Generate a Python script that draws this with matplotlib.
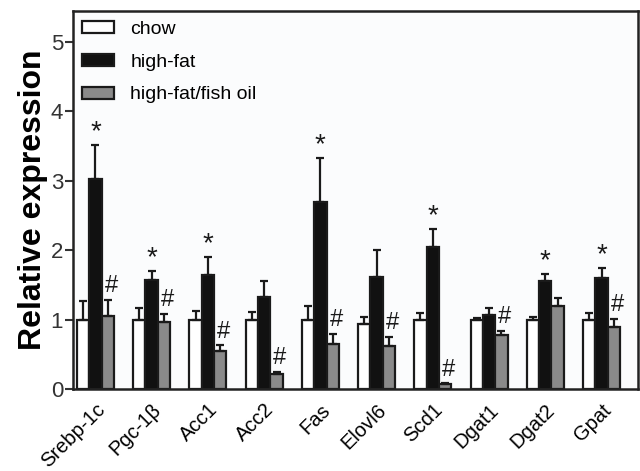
import matplotlib
matplotlib.use("Agg")
import matplotlib.pyplot as plt
import matplotlib.transforms as mtransforms
import numpy as np

plt.rcParams['font.family'] = ['Liberation Sans', 'DejaVu Sans']

genes = ["Srebp-1c", "Pgc-1β", "Acc1", "Acc2", "Fas", "Elovl6", "Scd1", "Dgat1", "Dgat2", "Gpat"]
chow = [1.0, 1.0, 1.0, 1.0, 1.0, 0.94, 1.0, 1.0, 1.0, 1.0]
chow_err = [0.27, 0.17, 0.12, 0.11, 0.20, 0.10, 0.10, 0.03, 0.04, 0.10]
highfat = [3.02, 1.57, 1.65, 1.33, 2.70, 1.62, 2.04, 1.07, 1.55, 1.60]
highfat_err = [0.50, 0.13, 0.25, 0.22, 0.63, 0.38, 0.26, 0.10, 0.11, 0.14]
fishoil = [1.05, 0.96, 0.55, 0.22, 0.65, 0.62, 0.07, 0.78, 1.20, 0.90]
fishoil_err = [0.23, 0.12, 0.08, 0.03, 0.14, 0.13, 0.01, 0.06, 0.11, 0.11]
star = [True, True, True, False, True, False, True, False, True, True]
hashm = [True, True, True, True, True, True, True, True, False, True]
labels = ["chow", "high-fat", "high-fat/fish oil"]

fig = plt.figure(figsize=(6.4, 4.71), dpi=100)
ax = fig.add_axes([0.114, 0.174, 0.883, 0.803])
ax.set_facecolor('#fbfcfd')

x = np.arange(len(genes))
w = 0.22
ekw = dict(elinewidth=1.6, capthick=1.6, ecolor='#1a1a1a')
for off, vals, errs, col, lab in [(-w, chow, chow_err, 'white', labels[0]),
                                  (0, highfat, highfat_err, '#111111', labels[1]),
                                  (w, fishoil, fishoil_err, '#8a8a8a', labels[2])]:
    ax.bar(x + off, vals, w, color=col, edgecolor='#1a1a1a', linewidth=1.6, label=lab,
           yerr=[np.zeros(len(errs)), errs], capsize=3, error_kw=ekw, zorder=2)

for i in range(len(genes)):
    if star[i]:
        ax.text(x[i], highfat[i] + highfat_err[i] + 0.0, '*', ha='center', va='bottom',
                fontsize=20, color='#1a1a1a')
    if hashm[i]:
        ax.text(x[i] + w + 0.06, fishoil[i] + fishoil_err[i] + 0.04, '#', ha='center', va='bottom',
                fontsize=17, color='#1a1a1a')

ax.set_xlim(-0.40, 9.65)
ax.set_ylim(0, 5.45)
ax.set_yticks([0, 1, 2, 3, 4, 5])
ax.set_xticks(x)
ax.set_xticklabels(genes, rotation=45, ha='right', va='top', rotation_mode='anchor', fontsize=14.5)
off = mtransforms.ScaledTranslation(15 / 100, 2 / 100, fig.dpi_scale_trans)
for lbl in ax.get_xticklabels():
    lbl.set_transform(lbl.get_transform() + off)
ax.tick_params(axis='x', length=0, pad=8)
ax.tick_params(axis='y', labelsize=16, length=6, width=1.5, colors='#333333', pad=1)
for s in ax.spines.values():
    s.set_linewidth(1.8)
    s.set_color('#222222')
ax.set_ylabel("Relative expression", fontsize=23, fontweight='bold', labelpad=2)

ax.legend(loc='upper left', bbox_to_anchor=(-0.005, 1.005), frameon=False, fontsize=14,
          handlelength=1.65, handleheight=0.57, labelspacing=0.82, borderaxespad=0.3,
          borderpad=0.3, handletextpad=0.85)

fig.savefig("out.png", dpi=100, facecolor='white')
